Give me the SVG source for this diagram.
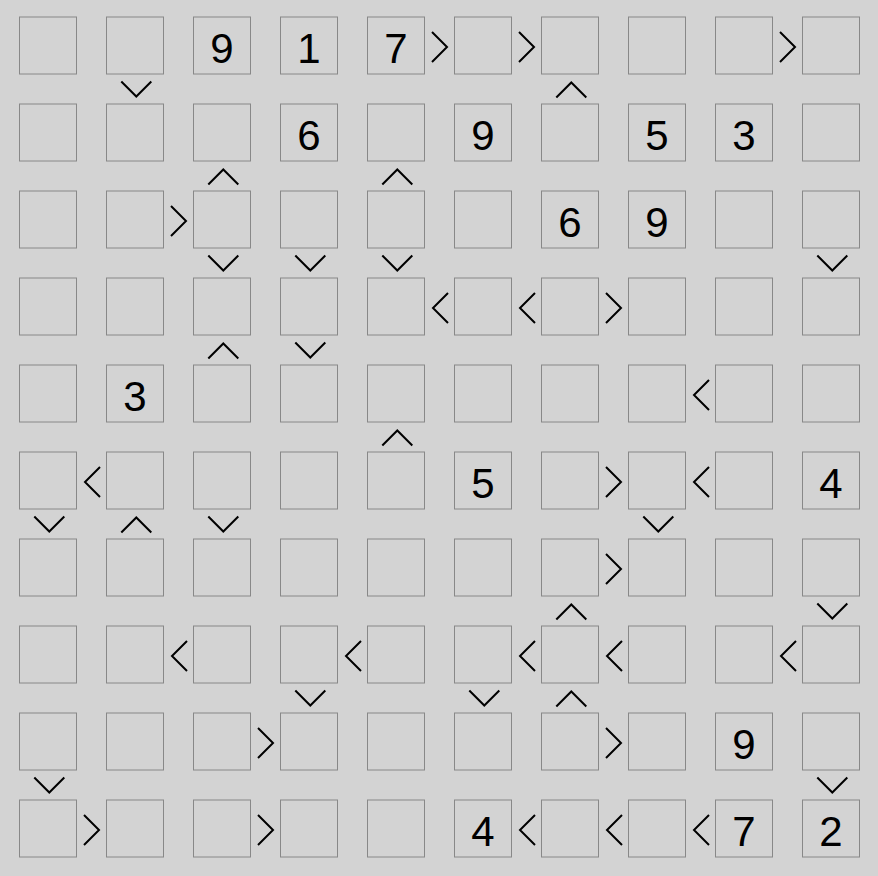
<svg xmlns="http://www.w3.org/2000/svg" xmlns:xlink="http://www.w3.org/1999/xlink" width="878" height="876" viewBox="0 0 878 876">
<style>
.cell rect{fill:#d3d3d3;stroke:#888888;stroke-width:1}
.cell text{font-family:"Liberation Sans",Arial,sans-serif;font-size:42px;fill:#000;text-anchor:middle}
.sign{fill:none;stroke:#000;stroke-width:2;stroke-linejoin:miter}
</style>
<defs>
<path id="gt" class="sign" d="M-8,-15 L7,0 L-8,15"/>
<path id="lt" class="sign" d="M8,-15 L-7,0 L8,15"/>
<path id="dn" class="sign" d="M-15,-8 L0,7 L15,-8"/>
<path id="up" class="sign" d="M-15,8 L0,-7 L15,8"/>
</defs>
<rect x="0" y="0" width="878" height="876" fill="#d3d3d3"/>
<g id="cells">
<g id="c0-0" class="cell"><rect x="19.5" y="17" width="57" height="57"/></g>
<g id="c0-1" class="cell"><rect x="106.5" y="17" width="57" height="57"/></g>
<g id="c0-2" class="cell"><rect x="193.5" y="17" width="57" height="57"/><text x="222" y="62.5">9</text></g>
<g id="c0-3" class="cell"><rect x="280.5" y="17" width="57" height="57"/><text x="309" y="62.5">1</text></g>
<g id="c0-4" class="cell"><rect x="367.5" y="17" width="57" height="57"/><text x="396" y="62.5">7</text></g>
<g id="c0-5" class="cell"><rect x="454.5" y="17" width="57" height="57"/></g>
<g id="c0-6" class="cell"><rect x="541.5" y="17" width="57" height="57"/></g>
<g id="c0-7" class="cell"><rect x="628.5" y="17" width="57" height="57"/></g>
<g id="c0-8" class="cell"><rect x="715.5" y="17" width="57" height="57"/></g>
<g id="c0-9" class="cell"><rect x="802.5" y="17" width="57" height="57"/></g>

<g id="c1-0" class="cell"><rect x="19.5" y="104" width="57" height="57"/></g>
<g id="c1-1" class="cell"><rect x="106.5" y="104" width="57" height="57"/></g>
<g id="c1-2" class="cell"><rect x="193.5" y="104" width="57" height="57"/></g>
<g id="c1-3" class="cell"><rect x="280.5" y="104" width="57" height="57"/><text x="309" y="149.5">6</text></g>
<g id="c1-4" class="cell"><rect x="367.5" y="104" width="57" height="57"/></g>
<g id="c1-5" class="cell"><rect x="454.5" y="104" width="57" height="57"/><text x="483" y="149.5">9</text></g>
<g id="c1-6" class="cell"><rect x="541.5" y="104" width="57" height="57"/></g>
<g id="c1-7" class="cell"><rect x="628.5" y="104" width="57" height="57"/><text x="657" y="149.5">5</text></g>
<g id="c1-8" class="cell"><rect x="715.5" y="104" width="57" height="57"/><text x="744" y="149.5">3</text></g>
<g id="c1-9" class="cell"><rect x="802.5" y="104" width="57" height="57"/></g>

<g id="c2-0" class="cell"><rect x="19.5" y="191" width="57" height="57"/></g>
<g id="c2-1" class="cell"><rect x="106.5" y="191" width="57" height="57"/></g>
<g id="c2-2" class="cell"><rect x="193.5" y="191" width="57" height="57"/></g>
<g id="c2-3" class="cell"><rect x="280.5" y="191" width="57" height="57"/></g>
<g id="c2-4" class="cell"><rect x="367.5" y="191" width="57" height="57"/></g>
<g id="c2-5" class="cell"><rect x="454.5" y="191" width="57" height="57"/></g>
<g id="c2-6" class="cell"><rect x="541.5" y="191" width="57" height="57"/><text x="570" y="236.5">6</text></g>
<g id="c2-7" class="cell"><rect x="628.5" y="191" width="57" height="57"/><text x="657" y="236.5">9</text></g>
<g id="c2-8" class="cell"><rect x="715.5" y="191" width="57" height="57"/></g>
<g id="c2-9" class="cell"><rect x="802.5" y="191" width="57" height="57"/></g>

<g id="c3-0" class="cell"><rect x="19.5" y="278" width="57" height="57"/></g>
<g id="c3-1" class="cell"><rect x="106.5" y="278" width="57" height="57"/></g>
<g id="c3-2" class="cell"><rect x="193.5" y="278" width="57" height="57"/></g>
<g id="c3-3" class="cell"><rect x="280.5" y="278" width="57" height="57"/></g>
<g id="c3-4" class="cell"><rect x="367.5" y="278" width="57" height="57"/></g>
<g id="c3-5" class="cell"><rect x="454.5" y="278" width="57" height="57"/></g>
<g id="c3-6" class="cell"><rect x="541.5" y="278" width="57" height="57"/></g>
<g id="c3-7" class="cell"><rect x="628.5" y="278" width="57" height="57"/></g>
<g id="c3-8" class="cell"><rect x="715.5" y="278" width="57" height="57"/></g>
<g id="c3-9" class="cell"><rect x="802.5" y="278" width="57" height="57"/></g>

<g id="c4-0" class="cell"><rect x="19.5" y="365" width="57" height="57"/></g>
<g id="c4-1" class="cell"><rect x="106.5" y="365" width="57" height="57"/><text x="135" y="410.5">3</text></g>
<g id="c4-2" class="cell"><rect x="193.5" y="365" width="57" height="57"/></g>
<g id="c4-3" class="cell"><rect x="280.5" y="365" width="57" height="57"/></g>
<g id="c4-4" class="cell"><rect x="367.5" y="365" width="57" height="57"/></g>
<g id="c4-5" class="cell"><rect x="454.5" y="365" width="57" height="57"/></g>
<g id="c4-6" class="cell"><rect x="541.5" y="365" width="57" height="57"/></g>
<g id="c4-7" class="cell"><rect x="628.5" y="365" width="57" height="57"/></g>
<g id="c4-8" class="cell"><rect x="715.5" y="365" width="57" height="57"/></g>
<g id="c4-9" class="cell"><rect x="802.5" y="365" width="57" height="57"/></g>

<g id="c5-0" class="cell"><rect x="19.5" y="452" width="57" height="57"/></g>
<g id="c5-1" class="cell"><rect x="106.5" y="452" width="57" height="57"/></g>
<g id="c5-2" class="cell"><rect x="193.5" y="452" width="57" height="57"/></g>
<g id="c5-3" class="cell"><rect x="280.5" y="452" width="57" height="57"/></g>
<g id="c5-4" class="cell"><rect x="367.5" y="452" width="57" height="57"/></g>
<g id="c5-5" class="cell"><rect x="454.5" y="452" width="57" height="57"/><text x="483" y="497.5">5</text></g>
<g id="c5-6" class="cell"><rect x="541.5" y="452" width="57" height="57"/></g>
<g id="c5-7" class="cell"><rect x="628.5" y="452" width="57" height="57"/></g>
<g id="c5-8" class="cell"><rect x="715.5" y="452" width="57" height="57"/></g>
<g id="c5-9" class="cell"><rect x="802.5" y="452" width="57" height="57"/><text x="831" y="497.5">4</text></g>

<g id="c6-0" class="cell"><rect x="19.5" y="539" width="57" height="57"/></g>
<g id="c6-1" class="cell"><rect x="106.5" y="539" width="57" height="57"/></g>
<g id="c6-2" class="cell"><rect x="193.5" y="539" width="57" height="57"/></g>
<g id="c6-3" class="cell"><rect x="280.5" y="539" width="57" height="57"/></g>
<g id="c6-4" class="cell"><rect x="367.5" y="539" width="57" height="57"/></g>
<g id="c6-5" class="cell"><rect x="454.5" y="539" width="57" height="57"/></g>
<g id="c6-6" class="cell"><rect x="541.5" y="539" width="57" height="57"/></g>
<g id="c6-7" class="cell"><rect x="628.5" y="539" width="57" height="57"/></g>
<g id="c6-8" class="cell"><rect x="715.5" y="539" width="57" height="57"/></g>
<g id="c6-9" class="cell"><rect x="802.5" y="539" width="57" height="57"/></g>

<g id="c7-0" class="cell"><rect x="19.5" y="626" width="57" height="57"/></g>
<g id="c7-1" class="cell"><rect x="106.5" y="626" width="57" height="57"/></g>
<g id="c7-2" class="cell"><rect x="193.5" y="626" width="57" height="57"/></g>
<g id="c7-3" class="cell"><rect x="280.5" y="626" width="57" height="57"/></g>
<g id="c7-4" class="cell"><rect x="367.5" y="626" width="57" height="57"/></g>
<g id="c7-5" class="cell"><rect x="454.5" y="626" width="57" height="57"/></g>
<g id="c7-6" class="cell"><rect x="541.5" y="626" width="57" height="57"/></g>
<g id="c7-7" class="cell"><rect x="628.5" y="626" width="57" height="57"/></g>
<g id="c7-8" class="cell"><rect x="715.5" y="626" width="57" height="57"/></g>
<g id="c7-9" class="cell"><rect x="802.5" y="626" width="57" height="57"/></g>

<g id="c8-0" class="cell"><rect x="19.5" y="713" width="57" height="57"/></g>
<g id="c8-1" class="cell"><rect x="106.5" y="713" width="57" height="57"/></g>
<g id="c8-2" class="cell"><rect x="193.5" y="713" width="57" height="57"/></g>
<g id="c8-3" class="cell"><rect x="280.5" y="713" width="57" height="57"/></g>
<g id="c8-4" class="cell"><rect x="367.5" y="713" width="57" height="57"/></g>
<g id="c8-5" class="cell"><rect x="454.5" y="713" width="57" height="57"/></g>
<g id="c8-6" class="cell"><rect x="541.5" y="713" width="57" height="57"/></g>
<g id="c8-7" class="cell"><rect x="628.5" y="713" width="57" height="57"/></g>
<g id="c8-8" class="cell"><rect x="715.5" y="713" width="57" height="57"/><text x="744" y="758.5">9</text></g>
<g id="c8-9" class="cell"><rect x="802.5" y="713" width="57" height="57"/></g>

<g id="c9-0" class="cell"><rect x="19.5" y="800" width="57" height="57"/></g>
<g id="c9-1" class="cell"><rect x="106.5" y="800" width="57" height="57"/></g>
<g id="c9-2" class="cell"><rect x="193.5" y="800" width="57" height="57"/></g>
<g id="c9-3" class="cell"><rect x="280.5" y="800" width="57" height="57"/></g>
<g id="c9-4" class="cell"><rect x="367.5" y="800" width="57" height="57"/></g>
<g id="c9-5" class="cell"><rect x="454.5" y="800" width="57" height="57"/><text x="483" y="845.5">4</text></g>
<g id="c9-6" class="cell"><rect x="541.5" y="800" width="57" height="57"/></g>
<g id="c9-7" class="cell"><rect x="628.5" y="800" width="57" height="57"/></g>
<g id="c9-8" class="cell"><rect x="715.5" y="800" width="57" height="57"/><text x="744" y="845.5">7</text></g>
<g id="c9-9" class="cell"><rect x="802.5" y="800" width="57" height="57"/><text x="831" y="845.5">2</text></g>
</g>
<g id="connectors">
<use xlink:href="#gt" x="440" y="47"/>
<use xlink:href="#gt" x="527" y="47"/>
<use xlink:href="#gt" x="788" y="47"/>
<use xlink:href="#gt" x="179" y="221"/>
<use xlink:href="#lt" x="440" y="308"/>
<use xlink:href="#lt" x="527" y="308"/>
<use xlink:href="#gt" x="614" y="308"/>
<use xlink:href="#lt" x="701" y="395"/>
<use xlink:href="#lt" x="92" y="482"/>
<use xlink:href="#gt" x="614" y="482"/>
<use xlink:href="#lt" x="701" y="482"/>
<use xlink:href="#gt" x="614" y="569"/>
<use xlink:href="#lt" x="179" y="656"/>
<use xlink:href="#lt" x="353" y="656"/>
<use xlink:href="#lt" x="527" y="656"/>
<use xlink:href="#lt" x="614" y="656"/>
<use xlink:href="#lt" x="788" y="656"/>
<use xlink:href="#gt" x="266" y="743"/>
<use xlink:href="#gt" x="614" y="743"/>
<use xlink:href="#gt" x="92" y="830"/>
<use xlink:href="#gt" x="266" y="830"/>
<use xlink:href="#lt" x="527" y="830"/>
<use xlink:href="#lt" x="614" y="830"/>
<use xlink:href="#lt" x="701" y="830"/>

<use xlink:href="#dn" x="136.3" y="89.5"/>
<use xlink:href="#up" x="571.3" y="89.5"/>
<use xlink:href="#up" x="223.3" y="176.5"/>
<use xlink:href="#up" x="397.3" y="176.5"/>
<use xlink:href="#dn" x="223.3" y="263.5"/>
<use xlink:href="#dn" x="310.3" y="263.5"/>
<use xlink:href="#dn" x="397.3" y="263.5"/>
<use xlink:href="#dn" x="832.3" y="263.5"/>
<use xlink:href="#up" x="223.3" y="350.5"/>
<use xlink:href="#dn" x="310.3" y="350.5"/>
<use xlink:href="#up" x="397.3" y="437.5"/>
<use xlink:href="#dn" x="49.3" y="524.5"/>
<use xlink:href="#up" x="136.3" y="524.5"/>
<use xlink:href="#dn" x="223.3" y="524.5"/>
<use xlink:href="#dn" x="658.3" y="524.5"/>
<use xlink:href="#up" x="571.3" y="611.5"/>
<use xlink:href="#dn" x="832.3" y="611.5"/>
<use xlink:href="#dn" x="310.3" y="698.5"/>
<use xlink:href="#dn" x="484.3" y="698.5"/>
<use xlink:href="#up" x="571.3" y="698.5"/>
<use xlink:href="#dn" x="49.3" y="785.5"/>
<use xlink:href="#dn" x="832.3" y="785.5"/>
</g>
</svg>
